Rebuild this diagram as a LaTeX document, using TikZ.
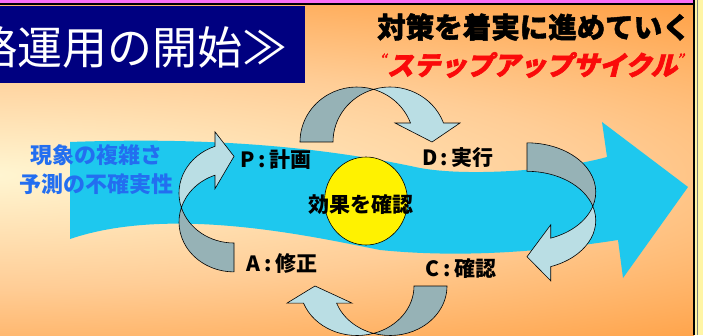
\documentclass[tikz,border=0pt]{standalone}
\usepackage{fontspec}
\usepackage{tikz}
\usetikzlibrary{positioning,shapes.geometric}
\newfontfamily\jp{Noto Sans CJK JP}
\newfontfamily\jpheavy{Noto Sans CJK JP}[BoldFeatures={FakeBold=1.5}]
\newfontfamily\jppop{Noto Sans CJK JP}[BoldFeatures={FakeBold=2.5,FakeSlant=0.25}]
\definecolor{bgcream}{RGB}{255,246,210}
\definecolor{bgpeach}{RGB}{255,205,150}
\definecolor{bgorange}{RGB}{255,153,55}
\definecolor{pinkband}{RGB}{250,110,245}
\definecolor{edgeyellow}{RGB}{255,245,165}
\definecolor{navybox}{RGB}{0,0,128}
\definecolor{bandblue}{RGB}{30,200,238}
\definecolor{popred}{RGB}{250,10,10}
\definecolor{textblue}{RGB}{35,110,240}
\definecolor{arrdark}{RGB}{150,178,182}
\definecolor{arrlight}{RGB}{186,222,228}
\pgfdeclareradialshading{slidebg}{\pgfpoint{0bp}{0bp}}{color(0bp)=(bgcream); color(12bp)=(bgpeach); color(25bp)=(bgorange); color(50bp)=(bgorange)}
\tikzset{
  lab/.style={inner sep=0pt,font=\jp\bfseries\fontsize{21}{21}\selectfont},
  backface/.style={fill=arrdark,draw=black,line width=0.6pt},
  frontface/.style={fill=arrlight,draw=black,line width=0.6pt},
  band/.style={fill=bandblue},
  % twisted curved arrow, tail on the left, head pointing down on the right
  cycarrow/.pic={
    \path[backface] (-57,0) arc[start angle=180,end angle=73.17,x radius=57,y radius=55]
      arc[start angle=106.83,end angle=180,x radius=57,y radius=55] -- cycle;
    \path[frontface] (73.17:57 and 55) arc[start angle=106.83,end angle=20.2,x radius=57,y radius=55]
      -- (103,19) -- (75,0) -- (38,19) -- (20.2:57 and 55)
      arc[start angle=20.2,end angle=73.17,x radius=57,y radius=55] -- cycle;
  },
}
\begin{document}
\begin{tikzpicture}[x=1pt,y=1pt]
  \useasboundingbox (0,0) rectangle (703,335);
  % slide background
  \fill[bgorange] (0,0) rectangle (694,330);
  \begin{scope}
    \clip (0,0) rectangle (694,330);
    \begin{scope}[shift={(-20,160)},yscale=0.184]
      \shade[shading=slidebg] (0,0) circle[radius=1272];
    \end{scope}
  \end{scope}
  \fill[pinkband] (0,331) rectangle (694,335);
  \draw[line width=2pt] (0,330.5) -- (694,330.5);
  \fill[edgeyellow] (694,0) rectangle (703,335);
  \draw[line width=1.8pt] (694,0) -- (694,335);
  \draw[gray,line width=0.6pt] (697.5,0) -- (697.5,335);

  % heading box
  \fill[navybox] (0,252) rectangle (305,329);
  \begin{scope}
    \clip (0,252) rectangle (305,329);
    \node[anchor=west,inner sep=0pt,text=white,font=\jp\fontsize{45}{45}\selectfont]
      (midashi) at (-28,288) {略運用の開始≫};
  \end{scope}

  \node[inner sep=0pt,font=\jpheavy\bfseries\fontsize{28.5}{28.5}\selectfont]
    (taisaku) at (534,308) {対策を着実に進めていく};
  \node[inner sep=0pt,text=popred,font=\jppop\bfseries\fontsize{26.5}{26.5}\selectfont]
    (stepup) at (532,270) {{\fontsize{11}{11}\selectfont\raisebox{13pt}{“}}ステップアップサイクル{\fontsize{11}{11}\selectfont\raisebox{13pt}{”}}};

  % main flow
  \fill[band] (70,193) .. controls (180,197) and (300,193) .. (420,167)
    .. controls (470,158) and (560,165) .. (607,178)
    -- (602,213) -- (688,148) -- (623,57) -- (618,95)
    .. controls (540,83) and (460,77) .. (380,85)
    .. controls (310,99) and (170,130) .. (70,96) -- cycle;

  \node[ellipse,draw,fill=yellow,line width=0.6pt,minimum width=83pt,minimum height=88pt,inner sep=0pt]
    (kakunin) at (366,134) {};

  % PDCA arrows
  \pic at (357,193) {cycarrow};
  \pic[rotate=-90,xscale=0.8625,yscale=1.25] at (527,143) {cycarrow};
  \begin{scope}
    \clip (0,0) rectangle (694,330);
    \pic[rotate=180,yscale=0.9] at (390,49) {cycarrow};
  \end{scope}
  \pic[rotate=90,xscale=0.875] at (234,113) {cycarrow};

  \node[lab] (P) at (276,175) {P\,:\,計画};
  \node[lab] (D) at (458,177) {D\,:\,実行};
  \node[lab] (C) at (461,66) {C\,:\,確認};
  \node[lab] (A) at (282,72) {A\,:\,修正};
  \node[lab] (kouka) at (361,130) {効果を確認};

  \node[inner sep=0pt,text=textblue,align=center,font=\jp\bfseries\fontsize{22}{29}\selectfont]
    (genshou) at (96,165) {現象の複雑さ\\予測の不確実性};
\end{tikzpicture}
\end{document}
